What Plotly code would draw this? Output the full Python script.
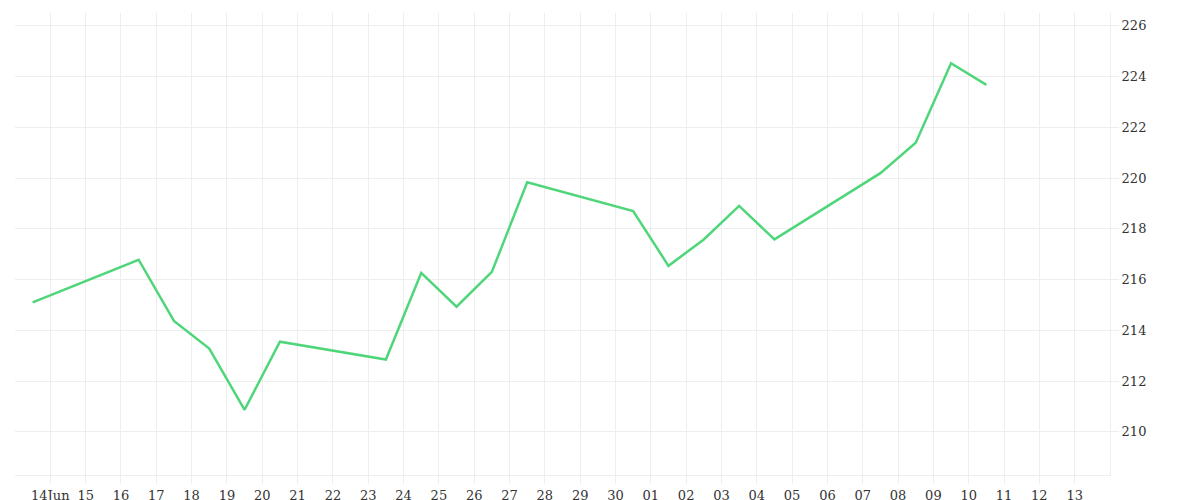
import plotly.graph_objects as go
import pandas as pd

dates = ["2021-06-13 12:00","2021-06-16 12:00","2021-06-17 12:00","2021-06-18 12:00","2021-06-19 12:00",
         "2021-06-20 12:00","2021-06-23 12:00","2021-06-24 12:00","2021-06-25 12:00","2021-06-26 12:00",
         "2021-06-27 12:00","2021-06-30 12:00","2021-07-01 12:00","2021-07-02 12:00","2021-07-03 12:00",
         "2021-07-04 12:00","2021-07-07 12:00","2021-07-08 12:00","2021-07-09 12:00","2021-07-10 12:00"]
values = [215.1,216.78,214.37,213.28,210.87,213.55,212.85,216.26,214.93,216.3,
          219.83,218.7,216.54,217.58,218.9,217.58,220.19,221.39,224.52,223.67]

tick_days = pd.date_range("2021-06-14", "2021-07-13", freq="D")
tick_text = ["14Jun"] + [d.strftime("%d") for d in tick_days[1:]]

fig = go.Figure(go.Scatter(x=dates, y=values, mode="lines",
                           line=dict(color="#4fd67a", width=2.5)))
fig.update_layout(
    width=1200, height=500, paper_bgcolor="white", plot_bgcolor="white",
    margin=dict(l=7, r=98, t=5, b=33), showlegend=False,
    font=dict(family="DejaVu Serif", size=13, color="#333"),
    xaxis=dict(range=["2021-06-13", "2021-07-14"], tickvals=list(tick_days), ticktext=tick_text,
               showgrid=True, gridcolor="#eeeeee", ticks="outside", ticklen=8, tickcolor="#eeeeee",
               showline=True, linecolor="#eeeeee", zeroline=False),
    yaxis=dict(side="right", range=[208.3, 226.5], dtick=2, showgrid=True, gridcolor="#eeeeee",
               showline=True, linecolor="#eeeeee", ticks="outside", ticklen=8, tickcolor="#eeeeee",
               zeroline=False),
)
fig.write_html("out.html")
